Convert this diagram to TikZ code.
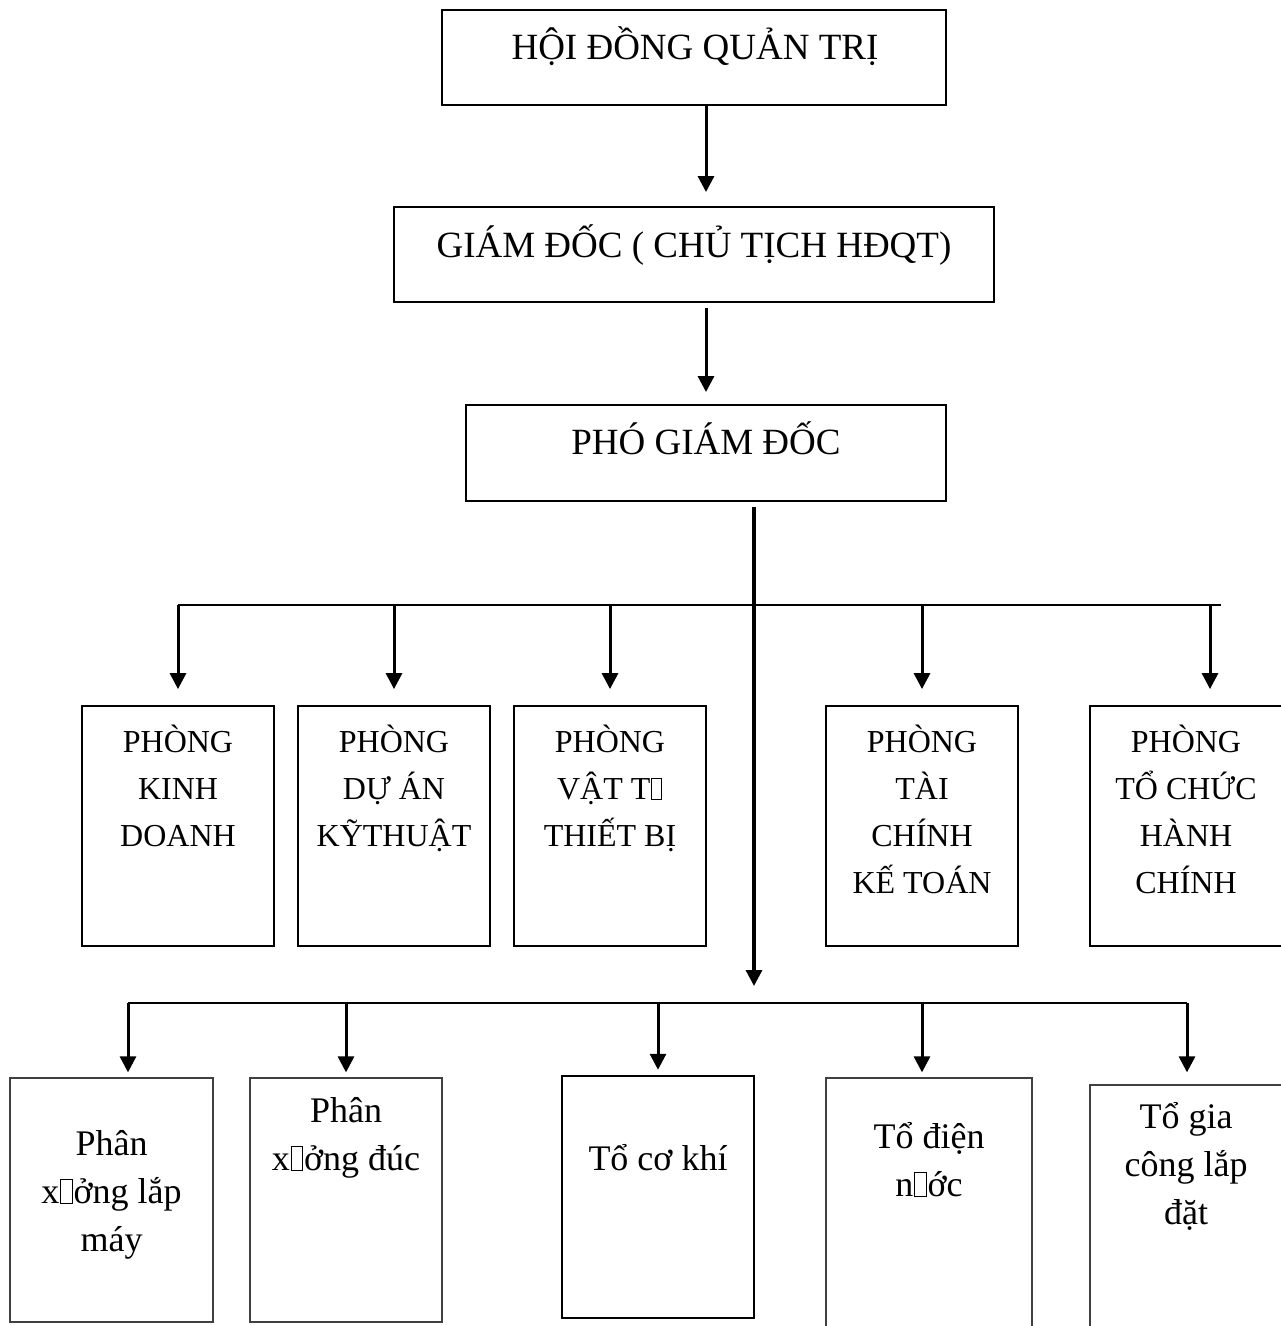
\documentclass[tikz,border=0pt]{standalone}
\usepackage{fontspec}
\setmainfont{Liberation Serif}
\usetikzlibrary{arrows.meta,calc}
\newcommand\nog{\kern0.02em{\setlength\fboxsep{0pt}\setlength\fboxrule{0.035em}\fbox{\rule{0pt}{0.64em}\hspace{0.28em}}}\kern0.02em}
\newcommand\tp{\rule{0pt}{1.05em}}
\begin{document}
\begin{tikzpicture}[x=1pt,y=-1pt,
  topbox/.style={draw, line width=1.9pt, inner sep=0pt},
  rowbox/.style={draw, line width=1.8pt, inner sep=0pt, minimum width=192, minimum height=240},
  lowbox/.style={draw=black!75, line width=1.3pt, inner sep=0pt},
  boldbox/.style={draw, line width=2.5pt, inner sep=0pt},
  ttop/.style={font=\fontsize{37}{44}\selectfont, inner sep=0pt, anchor=base},
  trow/.style={font=\fontsize{32}{47}\selectfont, inner sep=0pt, anchor=north, align=center},
  tlow/.style={font=\fontsize{36}{48}\selectfont, inner sep=0pt, anchor=north, align=center},
  arr/.style={line width=3pt, -{Triangle[width=16pt,length=16pt]}},
  bus/.style={line width=1.4pt}]
\useasboundingbox (0,0) rectangle (1281,1326);
\fill[white] (0,0) rectangle (1281,1326);
\clip (0,0) rectangle (1281,1326);

% top chain
\node[topbox, minimum width=504, minimum height=95] (hdqt) at (694,57.5) {};
\node[ttop] (thdqt) at (695,59) {HỘI ĐỒNG QUẢN TRỊ};
\node[topbox, minimum width=600, minimum height=95] (gd) at (694,254.5) {};
\node[ttop] (tgd) at (694,257) {GIÁM ĐỐC ( CHỦ TỊCH HĐQT)};
\node[topbox, minimum width=480, minimum height=96] (pgd) at (706,453) {};
\node[ttop] (tpgd) at (706,454) {PHÓ GIÁM ĐỐC};

\draw[arr, shorten >=14pt] (hdqt.south -| pgd.north) -- (gd.north -| pgd.north);
\draw[arr, shorten <=5pt, shorten >=12pt] (gd.south -| pgd.north) -- (pgd.north);

% row 1 boxes
\node[rowbox] (k1) at (178,826) {};
\node[rowbox] (k2) at (394,826) {};
\node[rowbox] (k3) at (610,826) {};
\node[rowbox] (k4) at (922,826) {};
\node[rowbox, minimum width=196] (k5) at (1188,826) {};
\node[trow] (tk1) at (178,718.4) {\tp PHÒNG\\KINH\\DOANH};
\node[trow] (tk2) at (394,718.4) {\tp PHÒNG\\DỰ ÁN\\KỸTHUẬT};
\node[trow] (tk3) at (610,718.4) {\tp PHÒNG\\VẬT T\nog\\THIẾT BỊ};
\node[trow] (tk4) at (922,718.4) {\tp PHÒNG\\TÀI\\CHÍNH\\KẾ TOÁN};
\node[trow] (tk5) at (1186,718.4) {\tp PHÒNG\\TỔ CHỨC\\HÀNH\\CHÍNH};

% upper bus
\coordinate (b1L) at (178,605);
\coordinate (b1R) at (1221,605);
\draw[bus] (b1L) -- (b1R);
\coordinate (a5) at (1210,605);
\foreach \n in {k1,k2,k3,k4}{
  \draw[arr, shorten >=16pt] (b1L -| \n.north) -- (\n.north);
}
\draw[arr, shorten >=16pt] (a5) -- (a5 |- k5.north);

% lower bus and main trunk
\coordinate (b2L) at (128,1003);
\coordinate (b2R) at (1187,1003);
\coordinate (trunk) at (754,1003);
\draw[bus] (b2L) -- (b2R);
\draw[arr, line width=3.3pt, shorten <=5pt, shorten >=17pt] (pgd.south -| trunk) -- (trunk);

% row 2 boxes
\node[lowbox, minimum width=203, minimum height=244] (p1) at (111.5,1200) {};
\node[lowbox, minimum width=192, minimum height=244] (p2) at (346,1200) {};
\node[boldbox, minimum width=192, minimum height=242] (p3) at (658,1197) {};
\node[lowbox, minimum width=206, minimum height=262] (p4) at (929,1209) {};
\node[lowbox, minimum width=196, minimum height=255] (p5) at (1188,1212.5) {};
\node[tlow] (tp1) at (111.5,1117.2) {\tp Phân\\x\nog ởng lắp\\máy};
\node[tlow] (tp2) at (346,1084.2) {\tp Phân\\x\nog ởng đúc};
\node[tlow] (tp3) at (658,1132.2) {\tp Tổ cơ khí};
\node[tlow] (tp4) at (929,1110.2) {\tp Tổ điện\\n\nog ớc};
\node[tlow] (tp5) at (1186,1090.2) {\tp Tổ gia\\công lắp\\đặt};

\coordinate (c1) at (128,1003);
\coordinate (c4) at (922,1003);
\coordinate (c5) at (1187,1003);
\draw[arr, shorten >=5pt] (c1) -- (c1 |- p1.north);
\draw[arr, shorten >=5pt] (b2L -| p2.north) -- (p2.north);
\draw[arr, shorten >=5pt] (b2L -| p3.north) -- (p3.north);
\draw[arr, shorten >=5pt] (c4) -- (c4 |- p4.north);
\draw[arr, shorten >=12pt] (c5) -- (c5 |- p5.north);
\end{tikzpicture}
\end{document}
